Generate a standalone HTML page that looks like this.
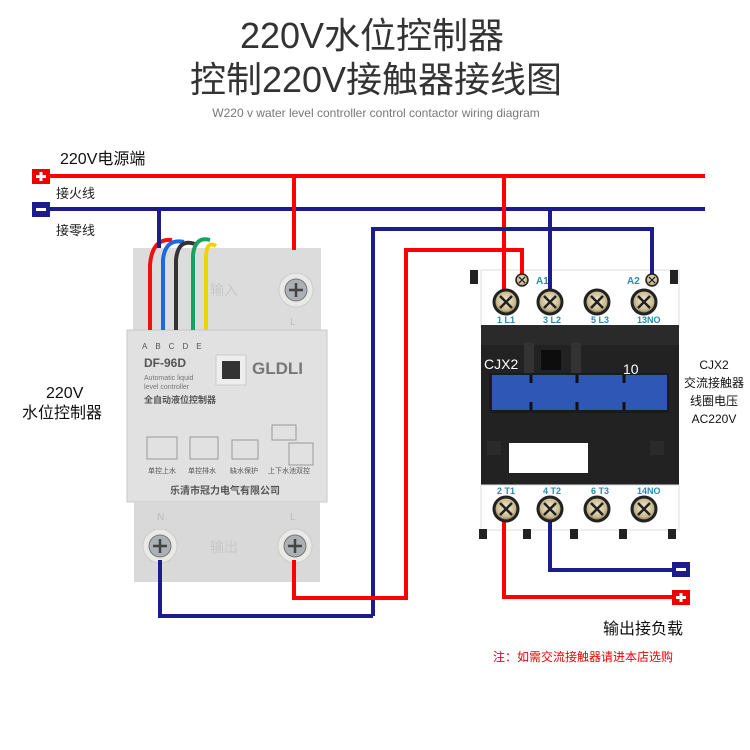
<!DOCTYPE html>
<html><head><meta charset="utf-8"><style>
body{margin:0;background:#fff}
svg{display:block}
text{font-family:"Liberation Sans","Noto Sans CJK SC",sans-serif}
</style></head><body>
<svg width="750" height="750" viewBox="0 0 750 750" xmlns="http://www.w3.org/2000/svg">
<defs>
<radialGradient id="scr" cx="50%" cy="45%" r="55%"><stop offset="0" stop-color="#f5ecd2"/><stop offset="0.7" stop-color="#c9b98e"/><stop offset="1" stop-color="#6b5d3c"/></radialGradient>
<g id="sc"><circle r="12" fill="url(#scr)" stroke="#222" stroke-width="3"/><path d="M-6,-6L6,6M6,-6L-6,6" stroke="#222" stroke-width="2.5"/></g>
<g id="bs"><circle r="17" fill="#e9e9e6" stroke="#ccc"/><circle r="11" fill="#aab0b4" stroke="#777"/><path d="M-7,0H7M0,-7V7" stroke="#444" stroke-width="2.5"/></g>
</defs>
<text x="372" y="48" font-size="36" fill="#333" text-anchor="middle" font-family="'Noto Sans CJK SC',sans-serif">220V水位控制器</text>
<text x="376" y="92" font-size="36" fill="#333" text-anchor="middle" font-family="'Noto Sans CJK SC',sans-serif">控制220V接触器接线图</text>
<text x="376" y="117" font-size="12" fill="#777" text-anchor="middle">W220 v water level controller control contactor wiring diagram</text>

<text x="60" y="164" font-size="16" fill="#111">220V电源端</text>
<text x="56" y="198" font-size="13" fill="#222">接火线</text>
<text x="56" y="235" font-size="13" fill="#222">接零线</text>

<!-- controller -->
<rect x="133" y="248" width="188" height="84" fill="#dcdcdc"/>
<rect x="127" y="330" width="200" height="172" fill="#e1e1e1" stroke="#c8c8c8"/>
<rect x="134" y="502" width="186" height="80" fill="#d9d9d9"/>
<use href="#bs" x="296" y="290"/>
<use href="#bs" x="160" y="546"/>
<use href="#bs" x="295" y="546"/>
<text x="210" y="295" font-size="14" fill="#c8c8c8">输入</text>
<text x="210" y="552" font-size="14" fill="#c8c8c8">输出</text>
<text x="157" y="520" font-size="10" fill="#bbb">N</text>
<text x="290" y="520" font-size="10" fill="#bbb">L</text>
<text x="290" y="325" font-size="10" fill="#bbb">L</text>
<path d="M150,330V265Q152,238 172,240" stroke="#e11" stroke-width="4" fill="none"/>
<path d="M163,330V260Q165,238 184,242" stroke="#1a6be0" stroke-width="4" fill="none"/>
<path d="M176,330V260Q178,238 195,244" stroke="#333" stroke-width="4" fill="none"/>
<path d="M193,330V255Q195,236 210,240" stroke="#1aa060" stroke-width="4" fill="none"/>
<path d="M206,330V258Q206,240 216,246" stroke="#f0d400" stroke-width="4" fill="none"/>
<text x="142" y="349" font-size="8" fill="#555" letter-spacing="8">ABCDE</text>
<text x="144" y="367" font-size="12" font-weight="bold" fill="#555">DF-96D</text>
<text x="144" y="380" font-size="7" fill="#777">Automatic liquid</text>
<text x="144" y="389" font-size="7" fill="#777">level controller</text>
<text x="144" y="403" font-size="9" font-weight="bold" fill="#555">全自动液位控制器</text>
<rect x="216" y="355" width="30" height="30" fill="#eee" stroke="#ccc"/>
<rect x="222" y="361" width="18" height="18" fill="#333"/>
<text x="252" y="374" font-size="17" font-weight="bold" fill="#777">GLDLI</text>
<g stroke="#999" fill="none" stroke-width="1">
<rect x="147" y="437" width="30" height="22"/><rect x="190" y="437" width="28" height="22"/><rect x="232" y="440" width="26" height="19"/><rect x="272" y="425" width="24" height="15"/><rect x="289" y="443" width="24" height="22"/>
</g>
<text x="148" y="473" font-size="7" fill="#555">单控上水</text><text x="188" y="473" font-size="7" fill="#555">单控排水</text><text x="230" y="473" font-size="7" fill="#555">缺水保护</text><text x="268" y="473" font-size="7" fill="#555">上下水池双控</text>
<text x="170" y="494" font-size="10" font-weight="bold" fill="#555">乐清市冠力电气有限公司</text>
<text x="46" y="398" font-size="16" fill="#111">220V</text>
<text x="22" y="418" font-size="16" fill="#111">水位控制器</text>

<!-- contactor -->
<rect x="481" y="270" width="198" height="57" fill="#fff" stroke="#ddd"/>
<rect x="481" y="325" width="198" height="160" fill="#222"/>
<rect x="481" y="325" width="198" height="20" fill="#2a2a2a"/>
<rect x="481" y="485" width="198" height="45" fill="#fff" stroke="#ddd"/>
<rect x="524" y="343" width="10" height="30" fill="#333"/><rect x="571" y="343" width="10" height="30" fill="#333"/>
<rect x="541" y="350" width="20" height="20" fill="#0d0d0d"/>
<rect x="489" y="373" width="180" height="40" fill="#1b1b1b"/>
<rect x="492" y="375" width="175" height="35" fill="#2f57b5"/>
<path d="M531,375v8M531,402v8M577,375v8M577,402v8M624,375v8M624,402v8" stroke="#111" stroke-width="3"/>
<rect x="509" y="443" width="79" height="30" fill="#fff"/>
<rect x="487" y="441" width="14" height="14" fill="#2a2a2a"/><rect x="650" y="441" width="14" height="14" fill="#2a2a2a"/>
<text x="484" y="369" font-size="14" fill="#fff">CJX2</text>
<text x="623" y="374" font-size="14" fill="#fff">10</text>
<rect x="470" y="270" width="8" height="14" fill="#222"/><rect x="670" y="270" width="8" height="14" fill="#222"/>
<g fill="#222"><rect x="479" y="529" width="8" height="10"/><rect x="523" y="529" width="8" height="10"/><rect x="570" y="529" width="8" height="10"/><rect x="619" y="529" width="8" height="10"/><rect x="668" y="529" width="8" height="10"/></g>
<text x="536" y="284" font-size="10" font-weight="bold" fill="#2a8ab0">A1</text>
<text x="627" y="284" font-size="10" font-weight="bold" fill="#2a8ab0">A2</text>
<g font-size="9" font-weight="bold" fill="#2a8ab0">
<text x="497" y="323">1 L1</text><text x="543" y="323">3 L2</text><text x="591" y="323">5 L3</text><text x="637" y="323">13NO</text>
<text x="497" y="494">2 T1</text><text x="543" y="494">4 T2</text><text x="591" y="494">6 T3</text><text x="637" y="494">14NO</text>
</g>
<text x="714" y="369" font-size="12" fill="#111" text-anchor="middle">CJX2</text>
<text x="714" y="387" font-size="12" fill="#111" text-anchor="middle">交流接触器</text>
<text x="714" y="405" font-size="12" fill="#111" text-anchor="middle">线圈电压</text>
<text x="714" y="423" font-size="12" fill="#111" text-anchor="middle">AC220V</text>

<!-- wires -->
<g fill="none" stroke-width="4">
<path d="M40,176H705" stroke="#f00"/>
<path d="M40,209H705" stroke="#1c1c8c"/>
<path d="M159,209V248" stroke="#1c1c8c"/>
<path d="M294,176V250" stroke="#f00"/>
<path d="M504,176V300" stroke="#f00"/>
<path d="M550,209V300" stroke="#1c1c8c"/>
<path d="M373,616V229H652V276" stroke="#1c1c8c"/>
<path d="M160,560V616H373" stroke="#1c1c8c"/>
<path d="M294,560V598H406V250H522V276" stroke="#f00"/>
<path d="M504,510V597H672" stroke="#f00"/>
<path d="M550,510V570H672" stroke="#1c1c8c"/>
</g>
<use href="#sc" x="522" y="280" transform="translate(261,140) scale(0.5)"/>
<use href="#sc" x="652" y="280" transform="translate(326,140) scale(0.5)"/>
<use href="#sc" x="506" y="302"/><use href="#sc" x="550" y="302"/><use href="#sc" x="597" y="302"/><use href="#sc" x="644" y="302"/>
<use href="#sc" x="506" y="509"/><use href="#sc" x="550" y="509"/><use href="#sc" x="597" y="509"/><use href="#sc" x="644" y="509"/>

<rect x="32" y="169" width="18" height="15" fill="#e00"/><path d="M36,176.5h10M41,172v9" stroke="#fff" stroke-width="3"/>
<rect x="32" y="202" width="18" height="15" fill="#1c1c8c"/><path d="M36,209.5h10" stroke="#fff" stroke-width="3"/>
<rect x="672" y="562" width="18" height="15" fill="#1c1c8c"/><path d="M676,569.5h10" stroke="#fff" stroke-width="3"/>
<rect x="672" y="590" width="18" height="15" fill="#e00"/><path d="M676,597.5h10M681,593v9" stroke="#fff" stroke-width="3"/>

<text x="603" y="634" font-size="16" fill="#111">输出接负载</text>
<text x="493" y="661" font-size="12" fill="#e00">注：如需交流接触器请进本店选购</text>
</svg>
</body></html>
